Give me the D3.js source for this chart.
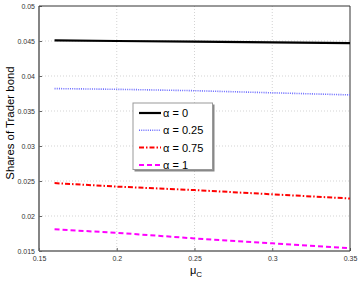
<!DOCTYPE html>
<html>
<head>
<meta charset="utf-8">
<script src="https://cdn.jsdelivr.net/npm/d3@7"></script>
<style>
	body { margin: 0; background: #fff; }
	text { font-family: "Liberation Sans", Arial, sans-serif; }
</style>
</head>
<body>
<div class="content"></div>
<script>
(function() {
	// data
	var muC = [0.16, 0.2, 0.25, 0.3, 0.35];
	var alpha0 = [0.0451, 0.0450, 0.0449, 0.0448, 0.0447];
	var alpha025 = [0.0382, 0.0381, 0.0379, 0.0376, 0.0373];
	var alpha075 = [0.0247, 0.0242, 0.0237, 0.0231, 0.0225];
	var alpha1 = [0.0181, 0.0176, 0.0168, 0.0161, 0.0154];
	var seriesNames = ["\u03b1 = 0", "\u03b1 = 0.25", "\u03b1 = 0.75", "\u03b1 = 1"];
	var xTicks = [0.15, 0.2, 0.25, 0.3, 0.35];
	var yTicks = [0.015, 0.02, 0.025, 0.03, 0.035, 0.04, 0.045, 0.05];

	var styles = [
		{color: "#000000", width: 2.2, dash: null},
		{color: "#6b6bff", width: 1.6, dash: "1,1.2"},
		{color: "#ff0000", width: 2, dash: "5,2,1.5,2"},
		{color: "#ff00ff", width: 2, dash: "5,3"}
	];
	var allSeries = [alpha0, alpha025, alpha075, alpha1];

	var W = 360, H = 282;
	var left = 39, right = 350, top = 6, bottom = 251;

	var svg = d3.select(".content")
		.append("svg")
		.attr("width", W)
		.attr("height", H);

	var x = d3.scaleLinear().domain([0.15, 0.35]).range([left, right]);
	var y = d3.scaleLinear().domain([0.015, 0.05]).range([bottom, top]);

	// grid
	var grid = svg.append("g");
	grid.selectAll("line.gx")
		.data(xTicks.slice(1, -1))
		.enter().append("line")
		.attr("x1", function(d) { return x(d); })
		.attr("x2", function(d) { return x(d); })
		.attr("y1", top)
		.attr("y2", bottom)
		.attr("stroke", "#c8c8c8")
		.attr("stroke-width", 0.8)
		.attr("stroke-dasharray", "1,2");
	grid.selectAll("line.gy")
		.data(yTicks.slice(1, -1))
		.enter().append("line")
		.attr("x1", left)
		.attr("x2", right)
		.attr("y1", function(d) { return y(d); })
		.attr("y2", function(d) { return y(d); })
		.attr("stroke", "#c8c8c8")
		.attr("stroke-width", 0.8)
		.attr("stroke-dasharray", "1,2");

	// axes (ticks point inward, matlab style)
	var xAxis = svg.append("g")
		.attr("transform", "translate(0," + bottom + ")")
		.call(d3.axisBottom(x).tickValues(xTicks).tickSize(-3).tickPadding(5)
			.tickFormat(function(d) { return String(d); }));
	var yAxis = svg.append("g")
		.attr("transform", "translate(" + left + ",0)")
		.call(d3.axisLeft(y).tickValues(yTicks).tickSize(-3).tickPadding(4)
			.tickFormat(function(d) { return String(d); }));

	[xAxis, yAxis].forEach(function(a) {
		a.select(".domain").remove();
		a.selectAll(".tick line").attr("stroke", "#666");
		a.selectAll(".tick text")
			.style("font-size", "7px")
			.style("font-family", "'Liberation Sans', Arial, sans-serif")
			.attr("fill", "#333");
	});

	// box
	svg.append("line").attr("x1", left).attr("x2", left).attr("y1", top).attr("y2", bottom)
		.attr("stroke", "#666").attr("stroke-width", 1.6);
	svg.append("line").attr("x1", left).attr("x2", right).attr("y1", bottom).attr("y2", bottom)
		.attr("stroke", "#666").attr("stroke-width", 1.6);
	svg.append("line").attr("x1", left).attr("x2", right).attr("y1", top).attr("y2", top)
		.attr("stroke", "#333").attr("stroke-width", 1);
	svg.append("line").attr("x1", right).attr("x2", right).attr("y1", top).attr("y2", bottom)
		.attr("stroke", "#333").attr("stroke-width", 1);

	// series
	var line = d3.line()
		.x(function(d, i) { return x(muC[i]); })
		.y(function(d) { return y(d); });

	allSeries.forEach(function(s, k) {
		svg.append("path")
			.datum(s)
			.attr("d", line)
			.attr("fill", "none")
			.attr("stroke", styles[k].color)
			.attr("stroke-width", styles[k].width)
			.attr("stroke-dasharray", styles[k].dash);
	});

	// legend
	var lg = svg.append("g");
	lg.append("rect")
		.attr("x", 134.5).attr("y", 104.5)
		.attr("width", 80).attr("height", 67)
		.attr("fill", "#888");
	lg.append("rect")
		.attr("x", 133).attr("y", 103)
		.attr("width", 79.5).attr("height", 66.5)
		.attr("fill", "#fff")
		.attr("stroke", "#999")
		.attr("stroke-width", 1);

	seriesNames.forEach(function(n, k) {
		var ly = 113 + k * 17.3;
		lg.append("line")
			.attr("x1", 139).attr("x2", 161)
			.attr("y1", ly).attr("y2", ly)
			.attr("stroke", styles[k].color)
			.attr("stroke-width", styles[k].width)
			.attr("stroke-dasharray", styles[k].dash);
		lg.append("text")
			.text(n)
			.attr("x", 163)
			.attr("y", ly + 4)
			.style("font-size", "11px");
	});

	// axis labels
	svg.append("text")
		.text("Shares of Trader bond")
		.attr("transform", "translate(13.5,123) rotate(-90)")
		.attr("text-anchor", "middle")
		.style("font-size", "11.4px");

	var xl = svg.append("text")
		.attr("x", 190)
		.attr("y", 274)
		.style("font-size", "11px");
	xl.append("tspan").text("\u03bc");
	xl.append("tspan").text("C").attr("dy", 3).style("font-size", "8px");
}());
</script>
</body>
</html>
